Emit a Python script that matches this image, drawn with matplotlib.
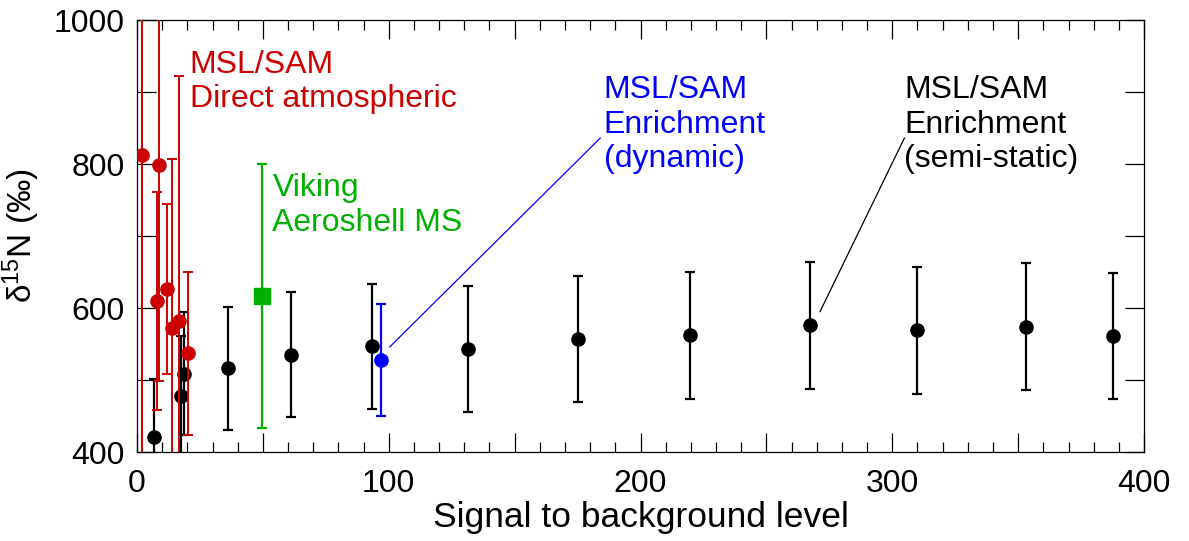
import matplotlib.pyplot as plt
from matplotlib.ticker import MultipleLocator, FuncFormatter

plt.rcParams['font.family'] = ['Liberation Sans', 'DejaVu Sans']
plt.rcParams['mathtext.fontset'] = 'custom'
plt.rcParams['mathtext.rm'] = 'Liberation Sans'
plt.rcParams['mathtext.it'] = 'Liberation Sans:italic'

# MSL/SAM enrichment (semi-static), black
black_x = [6.6, 17.5, 18.5, 36.2, 61.1, 93.4, 131.5, 175.1, 219.7, 267.2, 309.7, 353.2, 387.7]
black_y = [421, 478, 509, 516, 535, 547, 543, 557, 562, 576, 569, 574, 561]
black_err = [80, 83, 85, 86, 87, 87, 87, 88, 88, 88, 88, 88, 88]

# MSL/SAM direct atmospheric, red
red_x = [1.9, 7.8, 8.9, 11.8, 13.9, 16.7, 20.1]
red_y = [812, 610, 798, 627, 572, 582, 537]
red_err = [500, 151, 300, 118, 235, 340, 113]

# MSL/SAM enrichment (dynamic), blue
blue_x = [96.8]
blue_y = [528]
blue_err = [78]

# Viking aeroshell MS, green
green_x = [49.5]
green_y = [617]
green_err = [183]

RED = '#cc0000'
GREEN = '#00b000'
BLUE = '#0000ff'
FS = 23
LS = 1.18

fig = plt.figure(figsize=(11.89, 5.41), dpi=100)
ax = fig.add_axes([0.1152, 0.1645, 0.8470, 0.7985])

ax.errorbar(black_x, black_y, yerr=black_err, fmt='o', color='black', ms=9.5,
            elinewidth=1.6, capsize=3.5, capthick=1.6, zorder=3)
ax.errorbar(red_x, red_y, yerr=red_err, fmt='o', color=RED, ms=9.5,
            elinewidth=1.4, capsize=3.5, capthick=1.4, zorder=4)
ax.errorbar(green_x, green_y, yerr=green_err, fmt='s', color=GREEN, ms=11.5,
            elinewidth=1.6, capsize=3.5, capthick=1.6, zorder=3)
ax.errorbar(blue_x, blue_y, yerr=blue_err, fmt='o', color=BLUE, ms=9.5,
            elinewidth=1.6, capsize=3.5, capthick=1.6, zorder=3)

# labels and pointer lines
ax.text(21, 958, 'MSL/SAM\nDirect atmospheric', color=RED, fontsize=FS,
        va='top', ha='left', linespacing=LS)
ax.text(53.8, 787, 'Viking\nAeroshell MS', color=GREEN, fontsize=FS,
        va='top', ha='left', linespacing=LS)
ax.text(185.3, 923, 'MSL/SAM\nEnrichment\n(dynamic)', color=BLUE, fontsize=FS,
        va='top', ha='left', linespacing=LS)
ax.text(304.8, 923, 'MSL/SAM\nEnrichment\n(semi-static)', color='black', fontsize=FS,
        va='top', ha='left', linespacing=LS)
ax.plot([100.4, 184], [546, 836], color=BLUE, lw=0.9)
ax.plot([271.3, 304.8], [595, 836], color='black', lw=0.9)

ax.set_xlim(0, 400)
ax.set_ylim(400, 1000)

ax.xaxis.set_major_locator(MultipleLocator(50))
ax.xaxis.set_minor_locator(MultipleLocator(10))
ax.xaxis.set_major_formatter(FuncFormatter(lambda v, p: f'{v:.0f}' if v % 100 == 0 else ''))
ax.yaxis.set_major_locator(MultipleLocator(100))
ax.yaxis.set_major_formatter(FuncFormatter(lambda v, p: f'{v:.0f}' if v % 200 == 0 else ''))

ax.tick_params(axis='x', which='major', direction='in', length=14, width=0.9,
               top=True, labelsize=FS, pad=12)
ax.tick_params(axis='x', which='minor', direction='in', length=7, width=0.9, top=True)
ax.tick_params(axis='y', which='major', direction='in', length=14, width=0.9,
               right=True, labelsize=FS, pad=9)
for s in ax.spines.values():
    s.set_linewidth(0.9)

ax.set_xlabel('Signal to background level', fontsize=25.5, labelpad=2)
ax.set_ylabel('δ$^{15}$N (‰)', fontsize=24, labelpad=8)

fig.savefig('out.png', dpi=100)
